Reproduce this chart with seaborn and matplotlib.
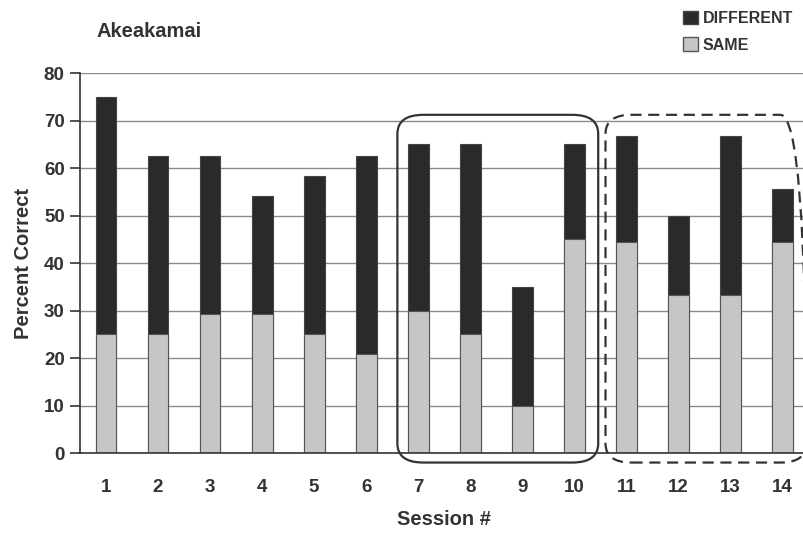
import pandas as pd
import matplotlib
matplotlib.use("Agg")
import matplotlib.pyplot as plt
from matplotlib.patches import FancyBboxPatch, Patch
import seaborn as sns

sessions  = [str(i) for i in range(1, 15)]
same      = [25, 25, 29.2, 29.2, 25, 20.8, 30, 25, 10, 45, 44.4, 33.3, 33.3, 44.4]
different = [50, 37.5, 33.3, 25, 33.3, 41.7, 35, 40, 25, 20, 22.3, 16.7, 33.4, 11.2]

DARK  = "#2a2a2a"
LIGHT = "#c6c6c6"

sns.set_theme(style="white")
plt.rcParams["font.family"] = ["Liberation Sans", "DejaVu Sans"]
plt.rcParams["font.weight"] = "bold"

df = pd.DataFrame({"session": sessions, "same": same, "different": different})
df["total"] = df["same"] + df["different"]

fig = plt.figure(figsize=(8.04, 5.33), dpi=100)
ax = fig.add_axes([0.0995, 0.150, 0.906, 0.713])

sns.barplot(data=df, x="session", y="total", order=sessions, color=DARK,
            width=0.4, edgecolor="#444444", linewidth=0.8, saturation=1, ax=ax)
sns.barplot(data=df, x="session", y="same", order=sessions, color=LIGHT,
            width=0.4, edgecolor="#555555", linewidth=0.8, saturation=1, ax=ax)

ax.set_ylim(0, 80)
ax.set_xlim(-0.5, len(sessions) - 0.5)
ax.set_yticks(range(0, 81, 10))
ax.yaxis.grid(True, color="#8a8a8a", linewidth=1.0)
ax.set_axisbelow(True)
for s in ["top", "right"]:
    ax.spines[s].set_visible(False)
for s in ["left", "bottom"]:
    ax.spines[s].set_color("#333333")
    ax.spines[s].set_linewidth(1.2)

ax.set_xticks(range(len(sessions)))
ax.set_xticklabels(sessions)
ax.set_xticks([i - 0.5 for i in range(len(sessions) + 1)], minor=True)
ax.tick_params(axis="x", which="major", length=0, pad=19, labelsize=13.5, colors="#333333")
ax.tick_params(axis="x", which="minor", length=7, width=1.2, color="#333333", direction="out")
ax.tick_params(axis="y", length=7, width=1.2, color="#333333", direction="out",
               labelsize=13.5, colors="#333333", left=True, pad=4)
for lab in ax.get_xticklabels() + ax.get_yticklabels():
    lab.set_fontweight("bold")

ax.set_xlabel("Session #", fontsize=14.5, fontweight="bold", color="#333333", labelpad=10)
ax.set_ylabel("Percent Correct", fontsize=14.5, fontweight="bold", color="#333333", labelpad=8)
fig.text(0.12, 0.94, "Akeakamai", fontsize=14.5, fontweight="bold", color="#333333",
         va="center")

# rounded boxes around session groups
def group_box(first, last, ls):
    x0 = sessions.index(first) - 0.4
    x1 = sessions.index(last) + 0.46
    box = FancyBboxPatch((x0, -2.0), x1 - x0, 73.2, boxstyle="round,pad=0,rounding_size=0.5",
                         mutation_aspect=8, fill=False, edgecolor="#333333",
                         linewidth=1.6, linestyle=ls, clip_on=False, zorder=5)
    ax.add_patch(box)

group_box("7", "10", "-")
group_box("11", "14", (0, (5, 3)))

handles = [Patch(facecolor=DARK, edgecolor="#444444", label="DIFFERENT"),
           Patch(facecolor=LIGHT, edgecolor="#555555", label="SAME")]
fig.legend(handles=handles, loc="upper left", bbox_to_anchor=(0.836, 1.0), frameon=False,
           fontsize=11.5, handlelength=0.9, handleheight=0.9, handletextpad=0.3,
           labelspacing=0.7, labelcolor="#333333", borderaxespad=0.3)

fig.savefig("out.png", dpi=100)
